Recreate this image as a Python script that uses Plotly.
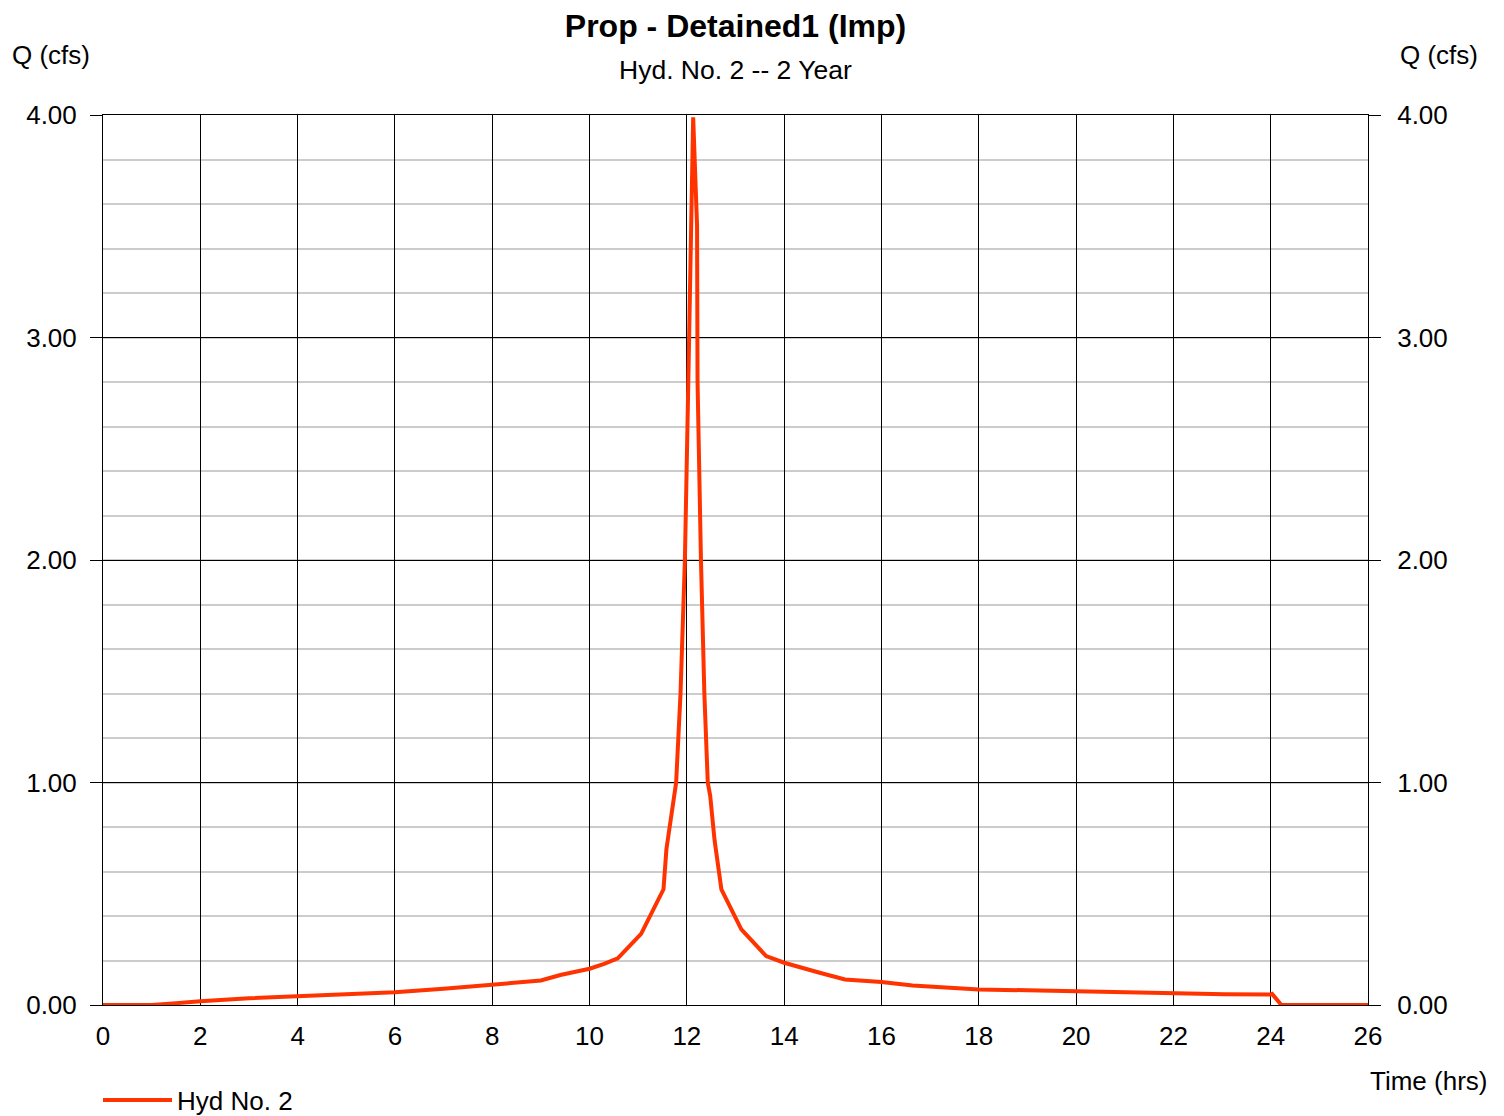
import plotly.graph_objects as go

# hydrograph (time in hrs, flow in cfs)
time_hrs = [0, 1.0, 1.5, 2.0, 3.0, 4.0, 5.0, 6.0, 7.0, 8.0, 8.5, 9.0, 9.4, 10.0,
            10.3, 10.58, 11.06, 11.52, 11.58, 11.68, 11.76, 11.78, 11.87, 11.96,
            12.03, 12.09, 12.13, 12.21, 12.22, 12.29, 12.36, 12.43, 12.48, 12.57,
            12.71, 13.12, 13.63, 14.0, 14.45, 14.73, 15.25, 15.71, 16.0, 16.64,
            17.42, 18.0, 19.0, 20.0, 21.0, 22.0, 23.06, 24.0, 24.03, 24.22, 26.0]
flow_cfs = [0, 0, 0.008, 0.017, 0.030, 0.040, 0.049, 0.057, 0.073, 0.092, 0.100,
            0.110, 0.135, 0.163, 0.185, 0.21, 0.32, 0.52, 0.70, 0.85, 0.94, 1.0,
            1.4, 2.0, 2.8, 3.5, 3.99, 3.5, 2.8, 2.0, 1.4, 1.0, 0.94, 0.74, 0.52,
            0.34, 0.22, 0.19, 0.165, 0.145, 0.115, 0.11, 0.103, 0.088, 0.078,
            0.070, 0.066, 0.061, 0.057, 0.052, 0.048, 0.047, 0.05, 0, 0]

x_ticks = list(range(0, 27, 2))
y_ticks = [0, 1, 2, 3, 4]

FONT = "Liberation Sans, Arial, sans-serif"

# page body has an 8px margin, so the figure is 8px smaller and margins shifted
fig = go.Figure()
fig.add_trace(go.Scatter(x=time_hrs, y=flow_cfs, mode="lines", name="Hyd No. 2",
                         line=dict(color="#ff3300", width=4)))
# dummy trace so the right-hand axis gets drawn
fig.add_trace(go.Scatter(x=[0], y=[0], yaxis="y2", mode="lines", showlegend=False,
                         hoverinfo="skip", line=dict(color="rgba(0,0,0,0)")))

fig.update_layout(
    width=1496, height=1108,
    margin=dict(l=95, r=136, t=107, b=111, autoexpand=False),
    paper_bgcolor="white", plot_bgcolor="white",
    font=dict(family=FONT, size=26, color="black"),
    title=dict(text="<b>Prop - Detained1 (Imp)</b>", x=0.5, xref="paper",
               y=1 - 18 / 1108, yanchor="middle", font=dict(size=32)),
    xaxis=dict(range=[0, 26], tickvals=x_ticks, showgrid=True, gridcolor="black",
               gridwidth=1, zeroline=False, showline=True, linecolor="black",
               mirror=True, ticks="outside", ticklen=8, tickcolor="rgba(0,0,0,0)"),
    yaxis=dict(range=[0, 4], tickvals=y_ticks, tickformat=".2f", showgrid=True,
               gridcolor="black", gridwidth=1, zeroline=False, showline=True,
               linecolor="black", mirror=True, ticks="outside", ticklen=12,
               tickcolor="black", ticklabelstandoff=8,
               minor=dict(dtick=0.2, showgrid=True, gridcolor="#cccccc", gridwidth=2)),
    yaxis2=dict(range=[0, 4], tickvals=y_ticks, tickformat=".2f", overlaying="y",
                side="right", showgrid=False, zeroline=False, ticks="outside",
                ticklen=12, tickcolor="black", ticklabelstandoff=11),
    legend=dict(orientation="h", x=-5 / 1265, xanchor="left", y=-(1100 - 1005) / 890,
                yanchor="middle", itemwidth=69, font=dict(size=26)),
    annotations=[
        dict(text="Hyd. No. 2 -- 2 Year", xref="paper", yref="paper", x=0.5,
             y=(1005 - 70) / 890, showarrow=False, xanchor="center", yanchor="middle",
             font=dict(size=26.5)),
        dict(text="Q (cfs)", xref="paper", yref="paper", x=(10 - 103) / 1265,
             y=(1005 - 55) / 890, showarrow=False, xanchor="left", yanchor="middle"),
        dict(text="Q (cfs)", xref="paper", yref="paper", x=(1398 - 103) / 1265,
             y=(1005 - 55) / 890, showarrow=False, xanchor="left", yanchor="middle"),
        dict(text="Time (hrs)", xref="paper", yref="paper", x=1.0,
             y=(1005 - 1081) / 890, showarrow=False, xanchor="left", yanchor="middle"),
    ],
)

fig.write_html("out.html")
